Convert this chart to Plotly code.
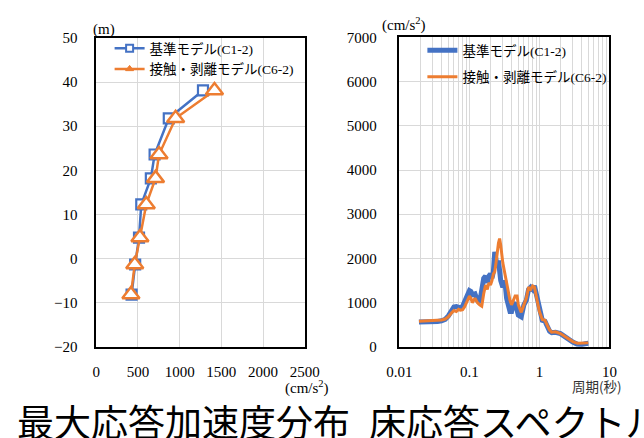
import plotly.graph_objects as go

W, H = 644, 438

# ---- 最大応答加速度分布 (height vs. peak acceleration) ----
height_m = [38.1, 31.8, 23.6, 18.2, 12.3, 4.8, -1.3, -8.1]
acc_base = [1280, 870, 700, 655, 540, 513, 467, 424]        # 基準モデル(C1-2)
acc_contact = [1418, 952, 753, 711, 600, 524, 462, 416]     # 接触・剥離モデル(C6-2)

# ---- 床応答スペクトル (floor response spectrum) ----
period_s = [0.019, 0.025, 0.03, 0.035, 0.04, 0.045, 0.05, 0.055, 0.06, 0.065,
            0.07, 0.075, 0.08, 0.085, 0.09, 0.095, 0.1, 0.105, 0.11, 0.12,
            0.13, 0.14, 0.15, 0.16, 0.17, 0.18, 0.19, 0.2, 0.21, 0.22,
            0.23, 0.24, 0.25, 0.26, 0.27, 0.28, 0.3, 0.32, 0.34, 0.36,
            0.38, 0.4, 0.42, 0.45, 0.48, 0.5, 0.55, 0.6, 0.65, 0.7,
            0.75, 0.8, 0.85, 0.9, 1.0, 1.1, 1.2, 1.3, 1.4, 1.5,
            1.7, 2.0, 2.3, 2.6, 3.0, 3.5, 4.0, 4.5, 5.0]
sa_base = [560, 560, 570, 575, 590, 620, 700, 820, 900, 910,
           900, 880, 920, 1000, 1100, 1200, 1270, 1250, 1180, 1200,
           1050, 1000, 1250, 1550, 1600, 1450, 1600, 1650, 1550, 1700,
           2150, 2000, 1800, 1950, 1700, 1500, 1350, 1500, 1100, 900,
           800, 800, 950, 1000, 850, 720, 680, 950, 1050, 1300,
           1350, 1300, 1380, 1200, 800, 600, 580, 450, 350, 320,
           330, 300, 230, 170, 110, 60, 50, 70, 80]
sa_contact = [580, 590, 600, 600, 610, 630, 680, 760, 820, 800,
              850, 830, 840, 900, 1000, 1080, 1150, 1100, 1000, 1100,
              1000, 950, 920, 1200, 1400, 1300, 1450, 1400, 1500, 1650,
              1700, 1900, 2200, 2350, 2450, 2300, 1900, 1650, 1500, 1250,
              1050, 950, 1050, 1150, 1150, 950, 780, 950, 1100, 1350,
              1300, 1380, 1350, 1150, 800, 620, 600, 480, 380, 330,
              340, 300, 240, 180, 120, 80, 80, 85, 90]

name_base = "基準モデル(C1-2)"
name_contact = "接触・剥離モデル(C6-2)"

BLUE = "#4472C4"
ORANGE = "#ED7D31"
GRID = "#d9d9d9"
SERIF = "Liberation Serif, Noto Sans CJK JP, serif"
NUM_FONT = dict(family=SERIF, size=15, color="#000")
LEG_FONT = dict(family=SERIF, size=13.5, color="#000")


def px_x(p):
    return p / W


def px_y(p):
    return (H - p) / H


fig = go.Figure()

# profile traces
fig.add_trace(go.Scatter(
    x=acc_base, y=height_m, mode="lines+markers", showlegend=False,
    line=dict(color=BLUE, width=2.5),
    marker=dict(symbol="square", size=10, color="white", line=dict(color=BLUE, width=2.2)),
    xaxis="x", yaxis="y"))
fig.add_trace(go.Scatter(
    x=acc_contact, y=height_m, mode="lines+markers", showlegend=False,
    line=dict(color=ORANGE, width=2.5),
    marker=dict(symbol="triangle-up", size=15, color="white", line=dict(color=ORANGE, width=2.5)),
    xaxis="x", yaxis="y"))
# legend entries for the profile chart
fig.add_trace(go.Scatter(
    x=[None], y=[None], mode="lines+markers", name=name_base, legend="legend",
    line=dict(color=BLUE, width=2.5),
    marker=dict(symbol="square", size=7, color="white", line=dict(color=BLUE, width=2)),
    xaxis="x", yaxis="y"))
fig.add_trace(go.Scatter(
    x=[None], y=[None], mode="lines+markers", name=name_contact, legend="legend",
    line=dict(color=ORANGE, width=2.5),
    marker=dict(symbol="triangle-up", size=7, color=ORANGE, line=dict(color=ORANGE, width=1)),
    xaxis="x", yaxis="y"))

# spectrum traces
fig.add_trace(go.Scatter(
    x=period_s, y=sa_base, mode="lines", name=name_base, legend="legend2",
    legendgroup="c", line=dict(color=BLUE, width=5), xaxis="x2", yaxis="y2"))
fig.add_trace(go.Scatter(
    x=period_s, y=sa_contact, mode="lines", name=name_contact, legend="legend2",
    legendgroup="d", line=dict(color=ORANGE, width=3), xaxis="x2", yaxis="y2"))

axis_common = dict(showline=True, linecolor="#000", linewidth=1.5, mirror=True,
                   showgrid=True, gridcolor=GRID, gridwidth=1, zeroline=False,
                   ticks="", tickfont=NUM_FONT)

log_ticks = []
log_text = []
for dec in [0.01, 0.1, 1]:
    for m in range(1, 10):
        log_ticks.append(round(dec * m, 4))
        log_text.append(str(dec) if m == 1 else "")
log_ticks.append(10)
log_text.append("10")

fig.update_layout(
    width=W, height=H, autosize=False,
    margin=dict(l=0, r=0, t=0, b=0),
    paper_bgcolor="white", plot_bgcolor="white",
    xaxis=dict(domain=[px_x(87), px_x(305)], range=[0, 2500], dtick=500,
               anchor="y", ticklabelstandoff=10, **axis_common),
    yaxis=dict(domain=[px_y(352), px_y(31)], range=[-20, 50], dtick=10,
               anchor="x", ticklabelstandoff=14, **axis_common),
    xaxis2=dict(domain=[px_x(404), px_x(623.5)], type="log", range=[-2, 1],
                tickvals=log_ticks, ticktext=log_text, anchor="y2",
                ticklabelstandoff=10, **axis_common),
    yaxis2=dict(domain=[px_y(351.7), px_y(30.5)], range=[0, 7000], dtick=1000,
                anchor="x2", ticklabelstandoff=18, **axis_common),
    legend=dict(x=px_x(101), y=px_y(26), xanchor="left", yanchor="top",
                bgcolor="rgba(0,0,0,0)", borderwidth=0, font=LEG_FONT,
                tracegroupgap=0, traceorder="normal"),
    legend2=dict(x=px_x(428), y=px_y(28), xanchor="left", yanchor="top",
                 bgcolor="rgba(0,0,0,0)", borderwidth=0, font=LEG_FONT,
                 tracegroupgap=6, traceorder="grouped"),
    shapes=[
        # white panels behind the legends, above the gridlines
        dict(type="rect", xref="paper", yref="paper", layer="between",
             x0=px_x(88), x1=px_x(304), y0=px_y(72), y1=px_y(38),
             fillcolor="white", line=dict(width=0)),
        dict(type="rect", xref="paper", yref="paper", layer="between",
             x0=px_x(412), x1=px_x(615), y0=px_y(91), y1=px_y(38),
             fillcolor="white", line=dict(width=0)),
    ],
)

ann = [
    dict(text="(m)", x=px_x(95), y=px_y(22), font=NUM_FONT),
    dict(text="(cm/s<sup>2</sup>)", x=px_x(307), y=px_y(394), font=NUM_FONT),
    dict(text="(cm/s<sup>2</sup>)", x=px_x(409), y=px_y(17), font=NUM_FONT),
    dict(text="周期(秒)", x=px_x(611), y=px_y(392),
         font=dict(family="Noto Sans CJK JP", size=13.5, color="#333")),
    dict(text="最大応答加速度分布", x=px_x(178), y=px_y(429),
         font=dict(family="Noto Sans CJK JP", size=37, color="#000")),
    dict(text="床応答スペクトル", x=px_x(525), y=px_y(429),
         font=dict(family="Noto Sans CJK JP", size=37, color="#000")),
]
for a in ann:
    a.setdefault("xanchor", "center")
    a.update(xref="paper", yref="paper", yanchor="middle", showarrow=False)
fig.update_layout(annotations=ann)

fig.write_html("out.html")
